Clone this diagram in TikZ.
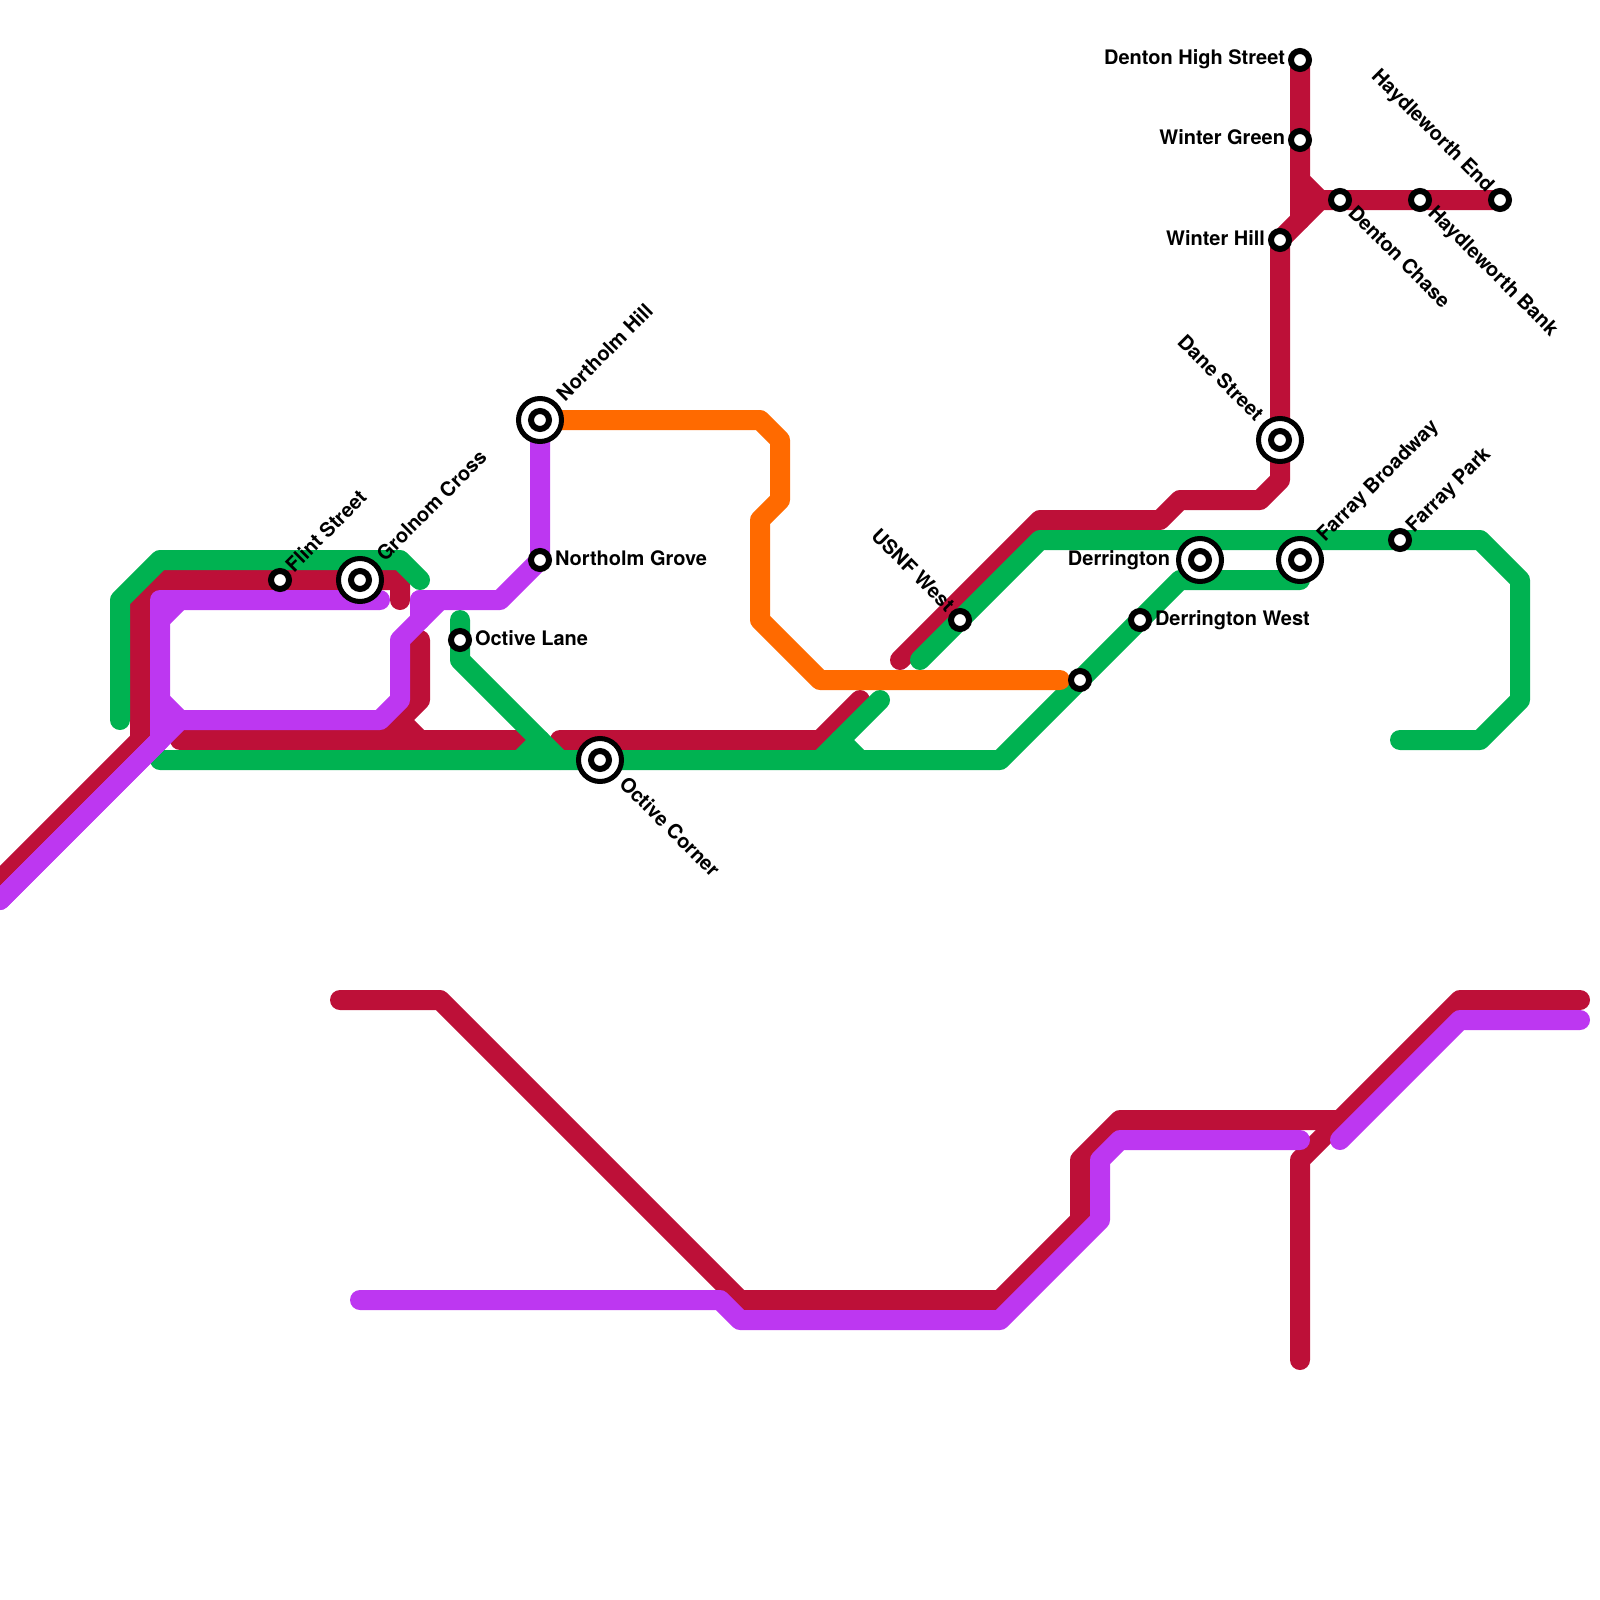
\documentclass[tikz,border=0pt]{standalone}
\usepackage{fontspec}
\setmainfont{TeX Gyre Heros}
\definecolor{mred}{HTML}{BD1038}
\definecolor{mgreen}{HTML}{00B251}
\definecolor{mpurple}{HTML}{BD37F1}
\definecolor{morange}{HTML}{FF6A00}
\pgfdeclarelayer{bg}
\pgfsetlayers{bg,main}
\tikzset{
  x=1pt,y=-1pt,
  metro/.style={line width=20pt,line cap=round,line join=round},
  redline/.style={metro,draw=mred},
  greenline/.style={metro,draw=mgreen},
  purpleline/.style={metro,draw=mpurple},
  orangeline/.style={metro,draw=morange},
  stn/.style={circle,draw=black,fill=white,line width=6pt,inner sep=0pt,minimum size=18pt},
  xstn/.style={circle,draw=black,fill=white,line width=5pt,inner sep=0pt,minimum size=43pt},
  lbl/.style={inner sep=0pt,outer sep=0pt,font=\bfseries\fontsize{20}{24}\selectfont,text=black},
  lblE/.style={lbl,anchor=base west},
  lblW/.style={lbl,anchor=base east},
  lblNE/.style={lbl,anchor=base west,rotate=45},
  lblSE/.style={lbl,anchor=base west,rotate=-45},
  lblNW/.style={lbl,anchor=base east,rotate=-45},
}
\begin{document}
\begin{tikzpicture}
\useasboundingbox (0,0) rectangle (1600,1600);
% stations
\node[stn] (dhs) at (1300,60) {};
\node[stn] (wgr) at (1300,140) {};
\node[stn] (dch) at (1340,200) {};
\node[stn] (hbk) at (1420,200) {};
\node[stn] (hen) at (1500,200) {};
\node[stn] (whl) at (1280,240) {};
\node[xstn] (dan) at (1280,440) {};
\node[stn] (dan-in) at (dan.center) {};
\node[xstn] (fbr) at (1300,560) {};
\node[stn] (fbr-in) at (fbr.center) {};
\node[stn] (fpk) at (1400,540) {};
\node[xstn] (der) at (1200,560) {};
\node[stn] (der-in) at (der.center) {};
\node[stn] (dwe) at (1140,620) {};
\node[stn] (unn) at (1080,680) {};
\node[stn] (usn) at (960,620) {};
\node[xstn] (oco) at (600,760) {};
\node[stn] (oco-in) at (oco.center) {};
\node[xstn] (nhi) at (540,420) {};
\node[stn] (nhi-in) at (nhi.center) {};
\node[stn] (ngr) at (540,560) {};
\node[stn] (ola) at (460,640) {};
\node[stn] (fli) at (280,580) {};
\node[xstn] (gro) at (360,580) {};
\node[stn] (gro-in) at (gro.center) {};
% free ends
\coordinate (rA) at (0,880);
\coordinate (rB) at (400,600);
\coordinate (rC) at (180,740);
\coordinate (rD) at (520,740);
\coordinate (rE) at (420,640);
\coordinate (rF) at (560,740);
\coordinate (rG) at (860,700);
\coordinate (rH) at (900,660);
\coordinate (rI) at (340,1000);
\coordinate (rJ) at (1580,1000);
\coordinate (rK) at (1300,1360);
\coordinate (gA) at (120,720);
\coordinate (gB) at (420,580);
\coordinate (gC) at (160,760);
\coordinate (gD) at (1300,580);
\coordinate (gE) at (460,620);
\coordinate (gF) at (880,700);
\coordinate (gG) at (920,660);
\coordinate (gH) at (1400,740);
\coordinate (pA) at (0,900);
\coordinate (pB) at (380,600);
\coordinate (pC) at (420,600);
\coordinate (pD) at (360,1300);
\coordinate (pE) at (1300,1140);
\coordinate (pF) at (1340,1140);
\coordinate (pG) at (1580,1020);
\coordinate (oA) at (1060,680);
\begin{pgfonlayer}{bg}
% red
\draw[redline] (rA) -- (140,740) -- (140,600) -- (160,580) -- (fli.center) -- (gro.center) -- (400,580) -- (rB);
\draw[redline] (rC) -- (rD);
\draw[redline] (rE) -- (420,700) -- (400,720) -- (380,740);
\draw[redline] (400,720) -- (420,740);
\draw[redline] (rF) -- (820,740) -- (rG);
\draw[redline] (rH) -- (1040,520) -- (1160,520) -- (1180,500) -- (1260,500) -- (1280,480) -- (dan.center) -- (whl.center) -- (1320,200) -- (dch.center) -- (hbk.center) -- (hen.center);
\draw[redline] (dhs.center) -- (wgr.center) -- (1300,180) -- (1320,200);
\draw[redline] (1300,180) -- (1300,220);
\draw[redline] (rI) -- (440,1000) -- (740,1300) -- (1000,1300) -- (1080,1220) -- (1080,1160) -- (1120,1120) -- (1340,1120) -- (1460,1000) -- (rJ);
\draw[redline] (rK) -- (1300,1160) -- (1340,1120);
% green
\draw[greenline] (gA) -- (120,600) -- (160,560) -- (400,560) -- (gB);
\draw[greenline] (gC) -- (oco.center) -- (1000,760) -- (unn.center) -- (dwe.center) -- (1180,580) -- (gD);
\draw[greenline] (gE) -- (ola.center) -- (460,660) -- (560,760);
\draw[greenline] (520,760) -- (540,740);
\draw[greenline] (gF) -- (820,760);
\draw[greenline] (840,740) -- (860,760);
\draw[greenline] (gG) -- (usn.center) -- (1040,540) -- (fpk.center) -- (1480,540) -- (1520,580) -- (1520,700) -- (1480,740) -- (gH);
% purple
\draw[purpleline] (pB) -- (160,600) -- (160,740) -- (pA);
\draw[purpleline] (180,600) -- (160,620);
\draw[purpleline] (pA) -- (180,720) -- (380,720) -- (400,700) -- (400,640) -- (440,600);
\draw[purpleline] (180,720) -- (160,700);
\draw[purpleline] (pC) -- (500,600) -- (ngr.center) -- (nhi.center);
\draw[purpleline] (pC) -- (420,620);
\draw[purpleline] (pD) -- (720,1300) -- (740,1320) -- (1000,1320) -- (1100,1220) -- (1100,1160) -- (1120,1140) -- (pE);
\draw[purpleline] (pF) -- (1460,1020) -- (pG);
% orange
\draw[orangeline] (nhi.center) -- (760,420) -- (780,440) -- (780,500) -- (760,520) -- (760,620) -- (820,680) -- (oA);
\end{pgfonlayer}
% labels
\node[lblW] (l-dhs) at ([shift={(-15,5)}]dhs.center) {Denton High Street};
\node[lblW] (l-wgr) at ([shift={(-15,5)}]wgr.center) {Winter Green};
\node[lblW] (l-whl) at ([shift={(-15,5)}]whl.center) {Winter Hill};
\node[lblW] (l-der) at ([shift={(-30,5)}]der.center) {Derrington};
\node[lblE] (l-dwe) at ([shift={(15,5)}]dwe.center) {Derrington West};
\node[lblE] (l-ngr) at ([shift={(15,5)}]ngr.center) {Northolm Grove};
\node[lblE] (l-ola) at ([shift={(15,5)}]ola.center) {Octive Lane};
\node[lblNE] (l-fli) at ([shift={(14,-7)}]fli.center) {Flint Street};
\node[lblNE] (l-fpk) at ([shift={(14,-7)}]fpk.center) {Farray Park};
\node[lblNE] (l-gro) at ([shift={(25,-18)}]gro.center) {Grolnom Cross};
\node[lblNE] (l-nhi) at ([shift={(25,-18)}]nhi.center) {Northolm Hill};
\node[lblNE] (l-fbr) at ([shift={(25,-18)}]fbr.center) {Farray Broadway};
\node[lblSE] (l-dch) at ([shift={(7,14)}]dch.center) {Denton Chase};
\node[lblSE] (l-hbk) at ([shift={(7,14)}]hbk.center) {Haydleworth Bank};
\node[lblSE] (l-oco) at ([shift={(18,25)}]oco.center) {Octive Corner};
\node[lblNW] (l-hen) at ([shift={(-14,-7)}]hen.center) {Haydleworth End};
\node[lblNW] (l-usn) at ([shift={(-14,-7)}]usn.center) {USNF West};
\node[lblNW] (l-dan) at ([shift={(-25,-18)}]dan.center) {Dane Street};
\end{tikzpicture}
\end{document}
